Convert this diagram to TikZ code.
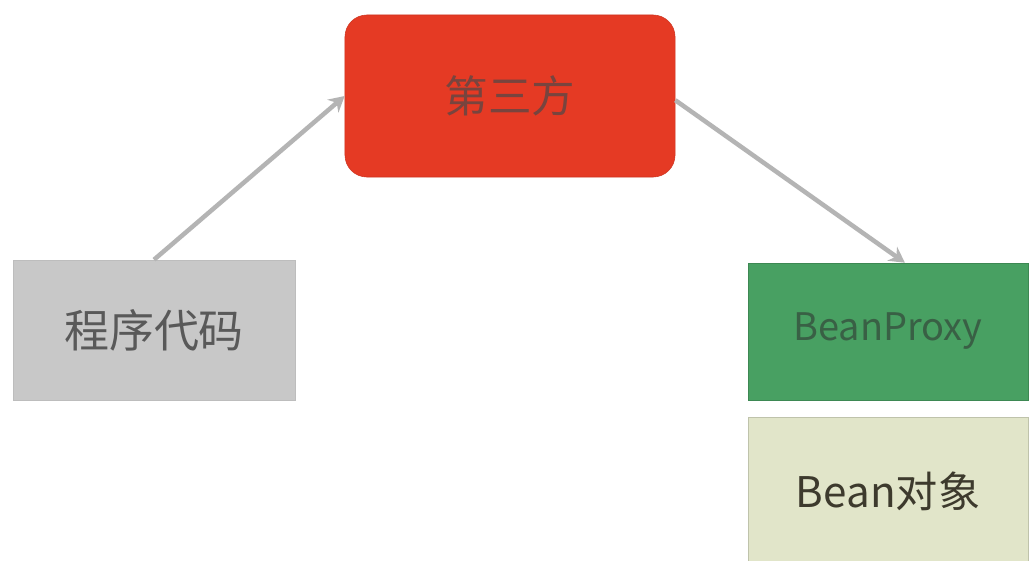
\documentclass[tikz,border=0pt]{standalone}
\usepackage{fontspec}
\setmainfont{Noto Sans CJK SC}
\usepackage{xcolor}
\usetikzlibrary{arrows.meta}
\definecolor{codegray}{HTML}{C8C8C8}
\definecolor{codeline}{HTML}{BDBDBD}
\definecolor{thirdred}{HTML}{E53A24}
\definecolor{proxygreen}{HTML}{48A062}
\definecolor{beanbeige}{HTML}{E1E5C9}
\definecolor{arrowgray}{HTML}{B4B4B4}
\tikzset{
  box/.style={minimum width=7.05cm,minimum height=3.5cm,inner sep=0pt,
    font=\fontsize{30}{36}\selectfont},
  link/.style={->,arrowgray,line width=3.2pt,
    >={Stealth[length=11pt,width=12pt]}}
}
\begin{document}
\begin{tikzpicture}[x=0.025cm,y=-0.025cm]
  \clip (0,0) rectangle (1032,560);
  \fill[white] (0,0) rectangle (1032,560);
  \node[box,fill=codegray,draw=codeline,text=black!65,
    font=\fontsize{32}{38}\selectfont] (code) at (154,330) {程序代码};
  \node[box,fill=thirdred,draw=thirdred!90!black,rounded corners=0.55cm,
    minimum width=8.25cm,minimum height=4.05cm,text=black!50!thirdred!60!gray,
    font=\fontsize{31}{37}\selectfont] (third) at (510,96) {第三方};
  \node[box,fill=proxygreen,draw=proxygreen!85!black,minimum width=7cm,
    minimum height=3.425cm,text=proxygreen!55!black!80!gray,
    font=\fontsize{27}{32}\selectfont] (proxy) at (888,331.5) {BeanProxy};
  \node[box,fill=beanbeige,draw=beanbeige!85!black,minimum width=7cm,
    minimum height=3.7cm,text=black!75!olive] (bean) at (888,491) {Bean对象};
  \draw[link] (code.north) -- (third.west);
  \draw[link] ([yshift=-3pt]third.east) -- ([xshift=12pt]proxy.north);
\end{tikzpicture}
\end{document}
